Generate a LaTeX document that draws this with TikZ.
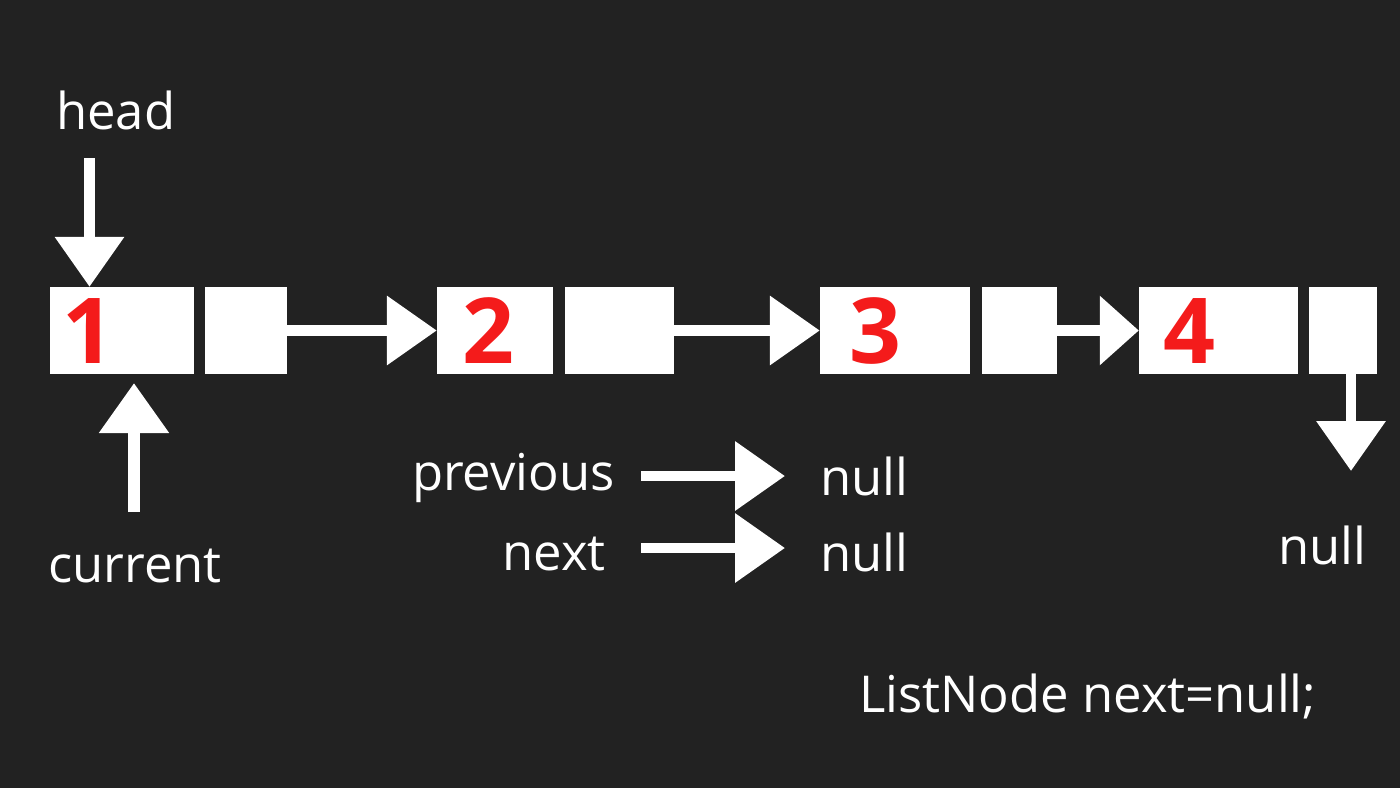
\documentclass[tikz,border=0pt]{standalone}
\usepackage{fontspec}
\setmainfont{Open Sans}
\usetikzlibrary{arrows.meta}
\definecolor{bg}{RGB}{34,34,34}
\definecolor{numred}{RGB}{244,27,27}
\tikzset{
  cell/.style={fill=white, draw=none, inner sep=0pt, minimum height=87pt},
  num/.style={text=numred, font=\fontsize{91}{91}\selectfont\bfseries, inner sep=0pt, anchor=base},
  lbl/.style={text=white, font=\fontsize{50.8}{50.8}\selectfont, inner sep=0pt},
  arr/.style={draw=white, line width=10.5pt, -{Triangle[length=50pt,width=67pt]}},
  arrshort/.style={draw=white, line width=10.5pt, -{Triangle[length=39pt,width=67pt]}}
}
\begin{document}
\begin{tikzpicture}[x=1pt,y=-1pt]
\fill[bg] (0,0) rectangle (1400,788);
\useasboundingbox (0,0) rectangle (1400,788);
% cells
\node[cell, minimum width=144pt] (b1) at (122,330.5) {};
\node[cell, minimum width=82pt] (b1n) at (246,330.5) {};
\node[cell, minimum width=116pt] (b2) at (495,330.5) {};
\node[cell, minimum width=109pt] (b2n) at (619.5,330.5) {};
\node[cell, minimum width=150pt] (b3) at (895,330.5) {};
\node[cell, minimum width=75pt] (b3n) at (1019.5,330.5) {};
\node[cell, minimum width=159pt] (b4) at (1218.5,330.5) {};
\node[cell, minimum width=68pt] (b4n) at (1343,330.5) {};
% numbers
\node[num] (d1) at (88,363) {1};
\node[num] (d2) at (488,363) {2};
\node[num] (d3) at (875.5,363) {3};
\node[num] (d4) at (1189,363) {4};
% links
\draw[arr] (b1n.east) -- (b2.west);
\draw[arr] (b2n.east) -- (b3.west);
\draw[arrshort] (b3n.east) -- (b4.west);
% head
\node[lbl, anchor=base west] (head) at (56,129) {head};
\coordinate (h0) at (89.5,158);
\draw[arr] (h0) -- (h0 |- b1.north);
% current
\node[lbl, anchor=base west] (cur) at (48,582) {current};
\coordinate (c0) at (134,512);
\coordinate (c1) at (134,383);
\draw[arr, line width=12pt] (c0) -- (c1);
% end null
\coordinate (n0) at (1351,471);
\draw[arr] (b4n.south -| n0) -- (n0);
\node[lbl, anchor=base west] (nullend) at (1278,564) {null};
% previous / next
\node[lbl, anchor=base east] (prev) at (615,490) {previous};
\node[lbl, anchor=base east] (nxt) at (606,570) {next};
\coordinate (p0) at (641,476);
\coordinate (p1) at (785,476);
\coordinate (q0) at (641,548);
\coordinate (q1) at (785,548);
\draw[arr] (p0) -- (p1);
\draw[arr] (q0) -- (q1);
\node[lbl, anchor=base west] (pnull) at (820,495) {null};
\node[lbl, anchor=base west] (qnull) at (820,571) {null};
% code
\node[lbl, anchor=base west] (code) at (859,712) {ListNode next=null;};
\end{tikzpicture}
\end{document}
